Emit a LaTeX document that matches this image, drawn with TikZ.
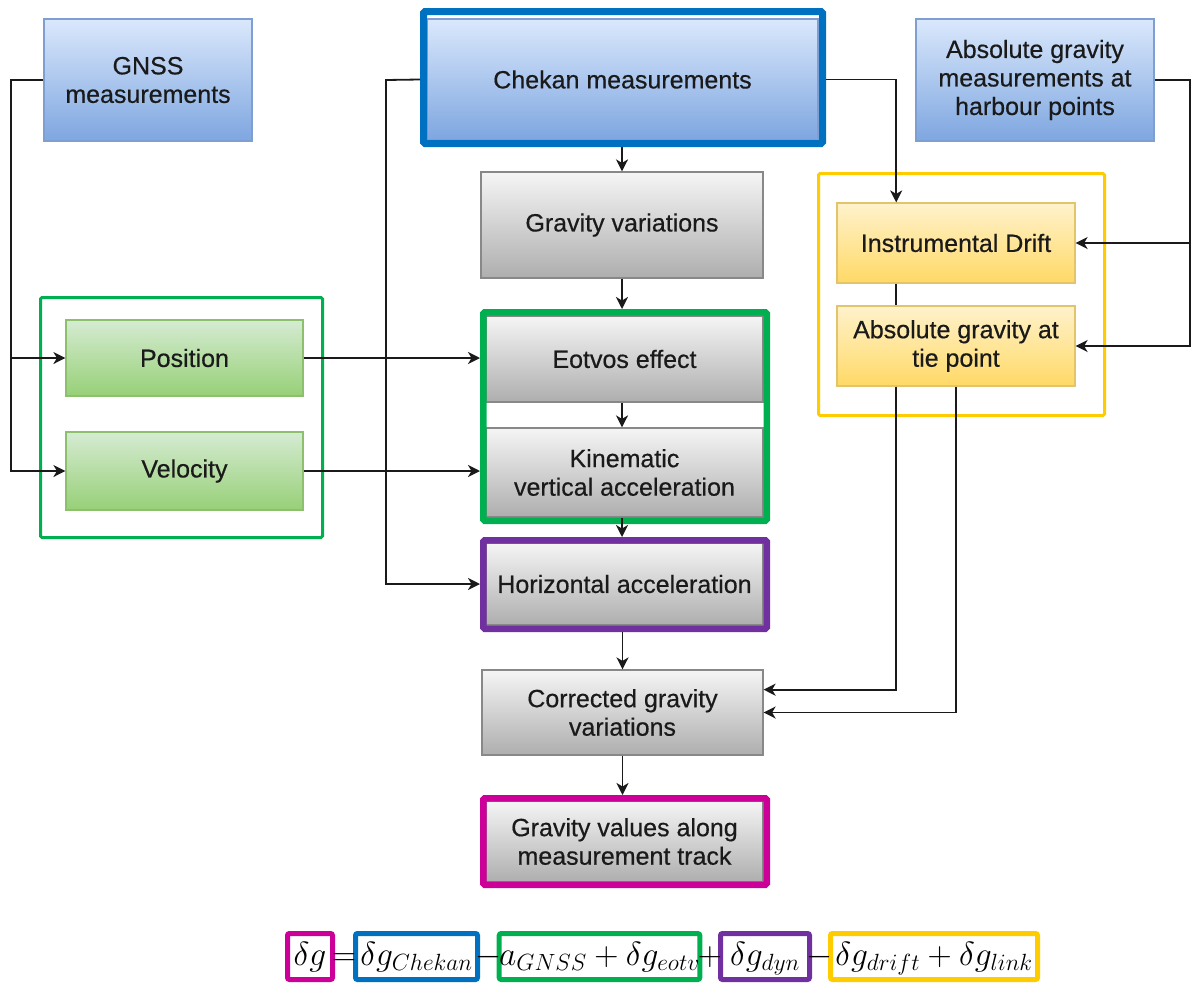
\RequirePackage{fix-cm}
\documentclass[tikz,border=0pt]{standalone}
\usepackage{fontspec}
\setmainfont{Liberation Sans}[FakeBold=0.5]
\newfontfamily\lbfont{Liberation Sans}[FakeBold=0.45]
\usetikzlibrary{arrows.meta,calc}
\definecolor{bluetop}{HTML}{DAE8FC}
\definecolor{bluebot}{HTML}{7EA6E0}
\definecolor{bluestroke}{HTML}{7F9FD3}
\definecolor{graytop}{HTML}{F5F5F5}
\definecolor{graybot}{HTML}{AEAEAE}
\definecolor{graystroke}{HTML}{888888}
\definecolor{greentop}{HTML}{D5EBD2}
\definecolor{greenbot}{HTML}{97D077}
\definecolor{greenstroke}{HTML}{8CC06C}
\definecolor{yeltop}{HTML}{FFF2CC}
\definecolor{yelbot}{HTML}{FFD966}
\definecolor{yelstroke}{HTML}{E2C46A}
\definecolor{frblue}{HTML}{0070C0}
\definecolor{frgreen}{HTML}{00B050}
\definecolor{frpurple}{HTML}{7030A0}
\definecolor{frmagenta}{HTML}{CC0099}
\definecolor{fryellow}{HTML}{FFCC00}
\definecolor{linec}{HTML}{1A1A1A}
\definecolor{txtc}{HTML}{1A1A1A}
\newcommand\boxfont{\lbfont\fontsize{25}{28.5}\selectfont}
\newcommand\formfont{\fontsize{33.5}{38}\selectfont}
\begin{document}
\begin{tikzpicture}[x=1pt,y=-1pt,
  box/.style={rectangle, line width=1.2pt, align=center, font=\boxfont, text=txtc, inner sep=2pt},
  bluebox/.style={box, draw=bluestroke, top color=bluetop, bottom color=bluebot},
  graybox/.style={box, draw=graystroke, top color=graytop, bottom color=graybot},
  greenbox/.style={box, draw=greenstroke, top color=greentop, bottom color=greenbot},
  yelbox/.style={box, draw=yelstroke, top color=yeltop, bottom color=yelbot},
  frame/.style={rectangle, inner sep=0pt, rounded corners=1.5pt},
  formbox/.style={rectangle, line width=5pt, rounded corners=2pt, inner sep=0pt, font=\formfont, text height=25pt, text depth=8pt, minimum height=46pt},
  formop/.style={inner sep=0pt, font=\formfont, text height=25pt, text depth=8pt},
  arr/.style={line width=1.8pt, draw=linec, -{Stealth[length=12pt,width=12pt,inset=3.5pt]}},
  ln/.style={line width=1.8pt, draw=linec}]
\useasboundingbox (0,0) rectangle (1192,983);
\fill[white] (0,0) rectangle (1192,983);

% top row
\node[bluebox, minimum width=208pt, minimum height=122pt] (gnss) at (148,80) {GNSS\\measurements};
\node[bluebox, minimum width=391pt, minimum height=121pt] (chekan) at (622.5,79.5) {Chekan measurements};
\node[bluebox, minimum width=238pt, minimum height=122pt] (absg) at (1035,80) {Absolute gravity\\measurements at\\harbour points};

% middle column
\node[graybox, minimum width=282pt, minimum height=106pt] (gravvar) at (622,225) {Gravity variations};
\node[graybox, minimum width=277pt, minimum height=86pt] (eotvos) at (624.5,359) {Eotvos effect};
\node[graybox, minimum width=277pt, minimum height=89pt] (kin) at (624.5,472.5) {Kinematic\\vertical acceleration};
\node[graybox, minimum width=277pt, minimum height=82pt] (horiz) at (624.5,584) {Horizontal acceleration};
\node[graybox, minimum width=281pt, minimum height=85pt] (corr) at (622.5,712.5) {Corrected gravity\\variations};
\node[graybox, minimum width=277pt, minimum height=81pt] (gvals) at (624.5,841.5) {Gravity values along\\measurement track};

% left column
\node[greenbox, minimum width=237pt, minimum height=76pt] (pos) at (184.5,358) {Position};
\node[greenbox, minimum width=237pt, minimum height=78pt] (vel) at (184.5,471) {Velocity};

% right column
\node[yelbox, minimum width=238pt, minimum height=80pt] (drift) at (956,243) {Instrumental Drift};
\node[yelbox, minimum width=238pt, minimum height=80pt] (tie) at (956,346) {Absolute gravity at\\tie point};

% highlight frames
\node[frame, draw=frblue, line width=7pt, minimum width=399pt, minimum height=132pt] (fchekan) at (623,77.5) {};
\node[frame, draw=frgreen, line width=3pt, minimum width=282pt, minimum height=240pt] (fleft) at (181.5,417.5) {};
\node[frame, draw=frgreen, line width=6.5pt, minimum width=283.5pt, minimum height=208.5pt] (fmid) at (625,416.5) {};
\node[frame, draw=frpurple, line width=6.5pt, minimum width=283.5pt, minimum height=88.5pt] (fhoriz) at (625,584.5) {};
\node[frame, draw=frmagenta, line width=6.5pt, minimum width=283.5pt, minimum height=86.5pt] (fgvals) at (625,841.5) {};
\node[frame, draw=fryellow, line width=3pt, minimum width=286pt, minimum height=242pt] (fyellow) at (961.5,294.5) {};

% connectors
\coordinate (gx) at (11,80);
\draw[arr] (gnss.west) -- (gx) |- (vel.west);
\draw[arr] (gx |- pos.west) -- (pos.west);

\coordinate (cx) at (386,80);
\draw[arr] (chekan.west -| fchekan.west) -- (cx) |- (horiz.west -| fhoriz.west);

\draw[arr] (pos.east) -- (pos.east -| fmid.west);
\draw[arr] (vel.east) -- (vel.east -| fmid.west);

\draw[arr] (fchekan.south -| gravvar.north) -- (gravvar.north);
\draw[arr] (gravvar.south) -- (gravvar.south |- fmid.north);
\draw[arr] (eotvos.south -| gravvar.south) -- (kin.north -| gravvar.south);
\draw[arr] (kin.south -| gravvar.south) -- (fhoriz.north -| gravvar.south);
\draw[arr] (fhoriz.south -| corr.north) -- (corr.north);
\draw[arr] (corr.south) -- (corr.south |- fgvals.north);

\draw[arr] (chekan.east -| fchekan.east) -| ($(drift.north west)!0.25!(drift.north east)$);
\draw[ln] ($(drift.south west)!0.25!(drift.south east)$) -- ($(tie.north west)!0.25!(tie.north east)$);
\draw[arr] ($(tie.south west)!0.25!(tie.south east)$) |- ($(corr.north east)!0.235!(corr.south east)$);
\draw[arr] (tie.south) |- (corr.east);

\coordinate (ax) at (1190,80);
\draw[arr] (absg.east) -- (ax) |- (tie.east);
\draw[arr] (ax |- drift.east) -- (drift.east);

% formula
\node[formbox, draw=frmagenta, minimum width=45pt] (fdg) at (310,956.5) {$\delta g$};
\node[formbox, draw=frblue, minimum width=122pt] (fchk) at (416.5,956.5) {$\delta g_{Chekan}$};
\node[formbox, draw=frgreen, minimum width=200pt] (fgnss) at (599.5,956.5) {$a_{GNSS}+\delta g_{eotv}$};
\node[formbox, draw=frpurple, minimum width=89pt] (fdyn) at (765,956.5) {$\delta g_{dyn}$};
\node[formbox, draw=fryellow, minimum width=207pt] (fdrift) at (934,956.5) {$\delta g_{drift}+\delta g_{link}$};
\node[formop] (opeq) at (344,956.5) {$=$};
\node[formop] (opm1) at (488.5,956.5) {$-$};
\node[formop] (opp) at (710,956.5) {$+$};
\node[formop] (opm2) at (820,956.5) {$-$};
\end{tikzpicture}
\end{document}
